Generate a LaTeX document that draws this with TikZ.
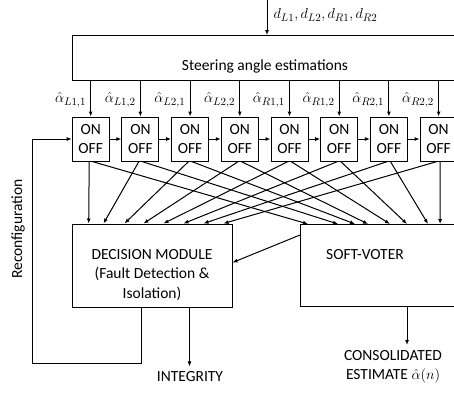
\documentclass[tikz,border=0pt]{standalone}
\usepackage{amsmath}
\usepackage{fontspec}
\setmainfont{Carlito}
\usetikzlibrary{arrows.meta,calc}

\begin{document}
\begin{tikzpicture}[x=1pt,y=-1pt,>={Latex[length=5pt,width=4pt]},line width=1pt]
%===STYLES===
\tikzset{every node/.style={font=\fontsize{15.5}{19.5}\selectfont},
 block/.style={draw,line width=1pt,inner sep=0pt},
 switch/.style={block,minimum width=37pt,minimum height=44pt,align=center},
 txt/.style={inner sep=5pt,align=center}}
%===frame===
\fill[white] (0,0) rectangle (454,392);
\useasboundingbox (0,0) rectangle (454,392);
\clip (0,0) rectangle (454,392);
%===blocks===
\node[block,anchor=north west,minimum width=390pt,minimum height=45pt] (steer) at (72,35) {};
\node (steert) at (265,66) {Steering angle estimations};
\node[block,minimum width=160pt,minimum height=83pt] (dm) at (152,265.5) {};
\node[txt] (dmt) at (152,275) {DECISION MODULE\\(Fault Detection \&\\Isolation)};
\node[block,anchor=north west,minimum width=170pt,minimum height=82pt] (sv) at (300,224) {};
\node (svt) at (365,255) {SOFT-VOTER};
%===input===
\coordinate (din) at (267,0);
\draw[->] (din) -- (din |- steer.north);
\node[anchor=west,inner sep=1pt] (dlab) at (272,15) {$d_{L1}, d_{L2}, d_{R1}, d_{R2}$};
%===switches===
\foreach \i/\a/\b in {1/L1/1,2/L1/2,3/L2/1,4/L2/2,5/R1/1,6/R1/2,7/R2/1,8/R2/2}{
 \node[switch] (sw\i) at ({90.7+49.7*(\i-1)},139) {ON\\OFF};
 \draw[->] (sw\i |- steer.south) -- (sw\i.north);
 \node[anchor=east,inner sep=1pt] (al\i) at ({87.5+49.7*(\i-1)},100) {$\hat{\alpha}_{\a,\b}$};
}
\foreach \i [evaluate=\i as \j using int(\i+1)] in {1,...,7}
 \draw[->] (sw\i) -- (sw\j);
%===fan out===
\foreach \i/\dx/\sx in {1/17.2/8,2/32/38,3/53/55,4/72/68,5/92/90,6/112/107,7/132/128,8/152/140.1}{
 \draw[->] ([xshift=-1.5pt]sw\i.south) -- ([xshift=\dx pt]dm.north west);
 \draw[->] ([xshift=1.5pt]sw\i.south) -- ([xshift=\sx pt]sv.north west);
}
\draw[->] ([yshift=-11pt]sv.north west) -- ([yshift=-39pt]dm.north east);
%===outputs===
\node[txt] (cons) at (393,367) {CONSOLIDATED\\ESTIMATE\ $\hat{\alpha}(n)$};
\coordinate (svout) at ([xshift=107pt]sv.south west);
\draw[->] (svout) -- (svout |- cons.north);
\node[txt] (integ) at (190,377) {INTEGRITY};
\coordinate (dmout) at ([xshift=118pt]dm.south west);
\draw[->] (dmout) -- (dmout |- integ.north);
%===reconfiguration===
\node[rotate=90] (reconf) at (18,229) {Reconfiguration};
\coordinate (fb) at (32,363);
\draw[->] ([xshift=70pt]dm.south west) |- (fb) |- (sw1.west);
\end{tikzpicture}
\end{document}
